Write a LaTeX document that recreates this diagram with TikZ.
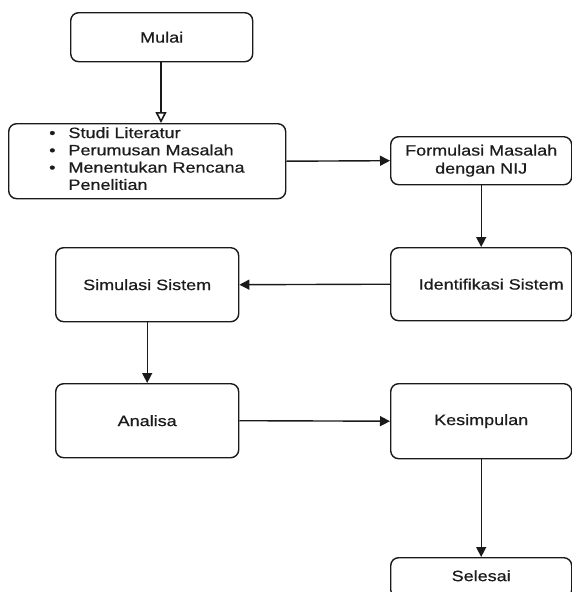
\documentclass[tikz,border=0pt]{standalone}
\usepackage{fontspec}
\setmainfont{Liberation Sans}[FakeStretch=1.2,FakeBold=0.6]
\usetikzlibrary{arrows.meta}
\definecolor{txt}{HTML}{1C1C1C}
\definecolor{ln}{HTML}{1A1A1A}
\begin{document}
\begin{tikzpicture}[x=1pt,y=-1pt,
  box/.style={draw=ln, line width=1.4pt, rounded corners=8pt, anchor=north west, inner sep=0pt, text=txt, align=center, font=\fontsize{15}{18}\selectfont},
  conn/.style={draw=ln, line width=1.4pt, -{Triangle[length=10pt,width=10pt]}},
  openconn/.style={draw=ln, line width=1.4pt, -{Triangle[open,length=11pt,width=11pt,line width=1.6pt]}}]
\useasboundingbox (0,0) rectangle (572,592);
\begin{scope}
\clip (-1,-1) rectangle (573,592);
\node[box, minimum width=182pt, minimum height=49pt] (mulai) at (70,12) {Mulai};
\node[box, minimum width=277pt, minimum height=75pt] (studi) at (8,123) {};
\node[anchor=west, inner sep=0pt, text=txt, font=\fontsize{15}{17.3}\selectfont] (studitext) at (49,160.5)
  {\begin{tabular}{@{}l@{\hspace{13pt}}l@{}}•&Studi Literatur\\ •&Perumusan Masalah\\ •&Menentukan Rencana\\ &Penelitian\end{tabular}};
\node[box, minimum width=181pt, minimum height=48pt] (formulasi) at (390,136) {Formulasi Masalah\\dengan NIJ};
\node[box, minimum width=181pt, minimum height=73pt] (identifikasi) at (390,247) {\hspace*{20pt}Identifikasi Sistem};
\node[box, minimum width=183pt, minimum height=74pt] (simulasi) at (55,247) {Simulasi Sistem};
\node[box, minimum width=183pt, minimum height=74pt] (analisa) at (55,383) {Analisa};
\node[box, minimum width=181pt, minimum height=75pt] (kesimpulan) at (390,383) {Kesimpulan};
\node[box, minimum width=181pt, minimum height=40pt] (selesai) at (390,557) {\raisebox{4pt}{Selesai}};
\end{scope}
\draw[openconn] (mulai.south -| 161,0) -- (161,0 |- studi.north);
\draw[conn] (studi.east) -- (formulasi.west);
\draw[conn] (formulasi.south) -- (identifikasi.north);
\draw[conn] (identifikasi.west) -- (simulasi.east);
\draw[conn] (simulasi.south) -- (analisa.north);
\draw[conn] (analisa.east) -- (kesimpulan.west);
\draw[conn] (kesimpulan.south) -- (selesai.north);
\end{tikzpicture}
\end{document}
